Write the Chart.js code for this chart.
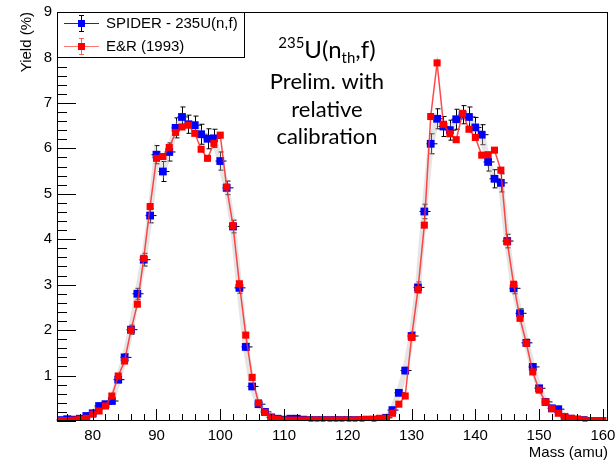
<!DOCTYPE html>
<html>
<head>
<meta charset="utf-8">
<script src="https://cdn.jsdelivr.net/npm/chart.js@4"></script>
<style>
  html, body { margin: 0; padding: 0; background: #fff; }
  #wrap { width: 615px; height: 462px; }
</style>
</head>
<body>
<div id="wrap"><canvas id="c" width="615" height="462"></canvas></div>
<script>
// mass numbers (amu)
var masses = [75, 76, 77, 78, 79, 80, 81, 82, 83, 84, 85, 86, 87, 88, 89, 90, 91, 92, 93, 94,
  95, 96, 97, 98, 99, 100, 101, 102, 103, 104, 105, 106, 107, 108, 109, 110, 111, 112, 113, 114,
  115, 116, 117, 118, 119, 120, 121, 122, 123, 124, 125, 126, 127, 128, 129, 130, 131, 132, 133, 134,
  135, 136, 137, 138, 139, 140, 141, 142, 143, 144, 145, 146, 147, 148, 149, 150, 151, 152, 153, 154,
  155, 156, 157, 158, 159, 160];

// E&R (1993) yields, 75..160
var erYield = [0.01, 0.01, 0.02, 0.04, 0.06, 0.15, 0.22, 0.33, 0.55, 0.99,
  1.32, 2.00, 2.57, 3.58, 4.72, 5.78, 5.82, 6.02, 6.35, 6.47,
  6.51, 6.33, 5.98, 5.78, 6.11, 6.29, 5.15, 4.30, 3.02, 1.89,
  0.96, 0.40, 0.19, 0.07, 0.04, 0.02, 0.02, 0.02, 0.02, 0.02,
  0.02, 0.02, 0.02, 0.02, 0.02, 0.02, 0.02, 0.03, 0.03, 0.04,
  0.06, 0.06, 0.17, 0.37, 0.55, 1.84, 2.89, 4.31, 6.70, 7.88,
  6.53, 6.32, 6.19, 6.77, 6.42, 6.24, 5.85, 5.86, 5.96, 5.52,
  3.94, 3.01, 2.26, 1.71, 1.08, 0.68, 0.42, 0.27, 0.17, 0.10,
  0.06, 0.04, 0.02, 0.01, 0.01, 0.01];

// SPIDER yields, 75..157
var spiderYield = [0.02, 0.04, 0.03, 0.05, 0.11, 0.17, 0.33, 0.37, 0.44, 0.91,
  1.40, 2.01, 2.80, 3.55, 4.52, 5.86, 5.49, 5.92, 6.45, 6.69,
  6.53, 6.51, 6.31, 6.21, 6.22, 5.72, 5.13, 4.28, 2.93, 1.63,
  0.76, 0.37, 0.20, 0.08, 0.05, 0.03, 0.05, 0.05, 0.03, 0.02,
  0.02, 0.02, 0.02, 0.02, 0.02, 0.02, 0.02, 0.02, 0.03, 0.02,
  0.04, 0.07, 0.24, 0.62, 1.11, 1.87, 2.94, 4.61, 6.10, 6.65,
  6.48, 6.40, 6.64, 6.74, 6.69, 6.46, 6.30, 5.70, 5.33, 5.24,
  3.96, 2.92, 2.37, 1.72, 1.19, 0.72, 0.42, 0.28, 0.26, 0.08,
  0.05, 0.03, 0.02];

var spiderErr = [0.02, 0.02, 0.02, 0.02, 0.03, 0.03, 0.04, 0.04, 0.05, 0.07,
  0.08, 0.10, 0.12, 0.14, 0.16, 0.20, 0.22, 0.20, 0.22, 0.22,
  0.20, 0.20, 0.22, 0.22, 0.20, 0.20, 0.15, 0.14, 0.12, 0.08,
  0.06, 0.04, 0.03, 0.02, 0.02, 0.02, 0.02, 0.02, 0.02, 0.02,
  0.02, 0.02, 0.02, 0.02, 0.02, 0.02, 0.02, 0.02, 0.02, 0.02,
  0.02, 0.03, 0.04, 0.05, 0.07, 0.09, 0.12, 0.16, 0.22, 0.22,
  0.22, 0.22, 0.22, 0.20, 0.22, 0.22, 0.22, 0.20, 0.20, 0.20,
  0.15, 0.12, 0.10, 0.08, 0.06, 0.05, 0.04, 0.03, 0.03, 0.02,
  0.02, 0.02, 0.02];

var xTicks = [80, 90, 100, 110, 120, 130, 140, 150, 160];
var yTicks = [0, 1, 2, 3, 4, 5, 6, 7, 8, 9];

var FONT = 'Liberation Sans';

function pts(ys) {
  return ys.map(function(y, i) { return { x: masses[i], y: y }; });
}

var rootLook = {
  id: 'rootLook',
  beforeDatasetDraw: function(chart, args) {
    if (args.index !== 1) return;
    var ctx = chart.ctx, xs = chart.scales.x, ys = chart.scales.y;
    ctx.save();
    ctx.strokeStyle = '#000';
    ctx.lineWidth = 1;
    spiderYield.forEach(function(v, i) {
      var px = Math.round(xs.getPixelForValue(masses[i])) + 0.5;
      var top = ys.getPixelForValue(v + spiderErr[i]);
      var bot = ys.getPixelForValue(Math.max(0, v - spiderErr[i]));
      var mid = ys.getPixelForValue(v);
      ctx.beginPath();
      ctx.moveTo(px, top); ctx.lineTo(px, bot);
      ctx.moveTo(px - 2, top); ctx.lineTo(px + 3, top);
      ctx.moveTo(px - 2, bot); ctx.lineTo(px + 3, bot);
      ctx.moveTo(px - 5, mid); ctx.lineTo(px + 6, mid);
      ctx.stroke();
    });
    ctx.restore();
  },
  afterDraw: function(chart) {
    var ctx = chart.ctx, a = chart.chartArea, xs = chart.scales.x, ys = chart.scales.y;
    ctx.save();
    ctx.strokeStyle = '#000';
    ctx.lineWidth = 1;
    // frame
    ctx.strokeRect(Math.round(a.left) + 0.5, Math.round(a.top) + 0.5,
      Math.round(a.right - a.left) - 1, Math.round(a.bottom - a.top) - 1);
    // inner ticks
    ctx.beginPath();
    var v, p;
    for (v = 0; v <= 9.001; v += 0.2) {
      p = Math.round(ys.getPixelForValue(v)) + 0.5;
      var major = Math.abs(v - Math.round(v)) < 0.01;
      ctx.moveTo(a.left, p); ctx.lineTo(a.left + (major ? 19 : 10), p);
    }
    for (v = 76; v <= 160; v += 2) {
      p = Math.round(xs.getPixelForValue(v)) + 0.5;
      ctx.moveTo(p, a.bottom); ctx.lineTo(p, a.bottom - (v % 10 === 0 ? 12 : 7));
    }
    ctx.stroke();

    // legend
    ctx.fillStyle = '#fff';
    ctx.fillRect(58, 13, 186, 44);
    ctx.strokeRect(57.5, 12.5, 187, 45);
    ctx.font = '15px "' + FONT + '"';
    ctx.textBaseline = 'middle';
    ctx.textAlign = 'left';
    var rows = [
      { y: 23, line: '#333', bar: '#000', mark: '#0000ff', text: 'SPIDER - 235U(n,f)' },
      { y: 46, line: 'rgba(255,60,60,0.7)', bar: 'rgba(255,60,60,0.8)', mark: '#ff0000', text: 'E&R (1993)' }
    ];
    rows.forEach(function(r) {
      ctx.strokeStyle = r.line;
      ctx.beginPath(); ctx.moveTo(64, r.y + 0.5); ctx.lineTo(99, r.y + 0.5); ctx.stroke();
      ctx.strokeStyle = r.bar;
      ctx.beginPath();
      ctx.moveTo(81.5, r.y - 8); ctx.lineTo(81.5, r.y + 8);
      ctx.moveTo(79, r.y - 7.5); ctx.lineTo(84, r.y - 7.5);
      ctx.moveTo(79, r.y + 8.5); ctx.lineTo(84, r.y + 8.5);
      ctx.stroke();
      ctx.fillStyle = r.mark;
      ctx.fillRect(78, r.y - 3, 7, 7);
      ctx.fillStyle = '#000';
      ctx.fillText(r.text, 106, r.y + 1);
    });

    // annotation
    var cx = 327, big = '24px Lato', small = '15px Lato';
    var parts = [
      { t: '235', f: small, dy: -10 },
      { t: 'U(n', f: big, dy: 0 },
      { t: 'th', f: small, dy: 5 },
      { t: ',f)', f: big, dy: 0 }
    ];
    var w = 0;
    parts.forEach(function(pt) { ctx.font = pt.f; pt.w = ctx.measureText(pt.t).width; w += pt.w; });
    var x0 = cx - w / 2;
    ctx.textBaseline = 'alphabetic';
    ctx.textAlign = 'left';
    parts.forEach(function(pt) { ctx.font = pt.f; ctx.fillText(pt.t, x0, 58 + pt.dy); x0 += pt.w; });
    ctx.font = '22px Lato';
    ctx.textAlign = 'center';
    ctx.fillText('Prelim. with', cx, 89);
    ctx.fillText('relative', cx, 117);
    ctx.fillText('calibration', cx, 144);
    ctx.restore();
  }
};

new Chart(document.getElementById('c'), {
  type: 'line',
  data: {
    datasets: [
      {
        label: 'E&R (1993)',
        data: pts(erYield),
        borderColor: 'rgba(255,40,40,0.85)',
        borderWidth: 1.5,
        pointStyle: 'rect',
        pointRadius: 5,
        pointBorderWidth: 0,
        pointBackgroundColor: '#ff0000',
        tension: 0
      },
      {
        label: 'SPIDER - 235U(n,f)',
        data: pts(spiderYield),
        borderColor: 'rgba(190,190,190,0.4)',
        borderWidth: 6,
        pointStyle: 'rect',
        pointRadius: 5.5,
        pointBorderWidth: 0,
        pointBackgroundColor: '#0000ff',
        tension: 0
      }
    ]
  },
  options: {
    responsive: false,
    animation: false,
    devicePixelRatio: 1,
    layout: { padding: { left: 0, right: 7, top: 12, bottom: 0 }, autoPadding: false },
    plugins: { legend: { display: false }, tooltip: { enabled: false } },
    scales: {
      x: {
        type: 'linear',
        min: 74.4,
        max: 160.8,
        afterBuildTicks: function(s) { s.ticks = xTicks.map(function(v) { return { value: v }; }); },
        afterFit: function(s) { s.height = 41; s.paddingLeft = 0; s.paddingRight = 0; },
        grid: { display: false, drawTicks: false },
        border: { display: false },
        ticks: { padding: 6, color: '#000', maxRotation: 0, autoSkip: false, font: { family: FONT, size: 15 } },
        title: { display: true, text: 'Mass (amu)', align: 'end', color: '#000', padding: { top: 0, bottom: 0 }, font: { family: FONT, size: 15 } }
      },
      y: {
        min: 0,
        max: 9,
        afterBuildTicks: function(s) { s.ticks = yTicks.map(function(v) { return { value: v }; }); },
        afterFit: function(s) { s.width = 57; s.paddingTop = 0; s.paddingBottom = 0; },
        grid: { display: false, drawTicks: false },
        border: { display: false },
        ticks: {
          padding: 5, color: '#000', font: { family: FONT, size: 15 },
          callback: function(v) { return v === 0 ? '' : v; }
        },
        title: { display: true, text: 'Yield (%)', align: 'end', color: '#000', padding: { top: 18, bottom: 0 }, font: { family: FONT, size: 15 } }
      }
    }
  },
  plugins: [rootLook]
});
</script>
</body>
</html>
